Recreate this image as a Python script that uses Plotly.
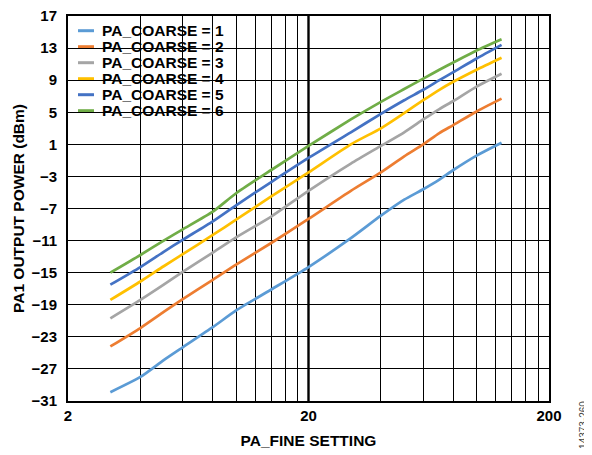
import plotly.graph_objects as go

# ---- data ----
pa_fine = [3, 4, 5, 6, 8, 10, 14, 20, 30, 40, 50, 60, 70, 80, 100, 127]
coarse_1 = [-29.9, -28.0, -25.9, -24.3, -21.8, -19.7, -17.1, -14.3, -10.7, -7.9, -5.9, -4.6, -3.4, -2.2, -0.4, 1.2]
coarse_2 = [-24.2, -21.9, -19.9, -18.3, -15.9, -14.0, -11.3, -8.3, -4.8, -2.5, -0.5, 1.0, 2.4, 3.4, 5.1, 6.7]
coarse_3 = [-20.7, -18.4, -16.5, -14.9, -12.5, -10.6, -8.0, -4.8, -1.4, 0.8, 2.5, 4.1, 5.4, 6.4, 8.2, 9.8]
coarse_4 = [-18.4, -16.1, -14.2, -12.7, -10.3, -8.4, -5.5, -2.5, 1.0, 3.0, 4.9, 6.5, 7.8, 8.8, 10.3, 11.8]
coarse_5 = [-16.5, -14.3, -12.4, -10.9, -8.6, -6.6, -3.7, -0.7, 2.5, 4.8, 6.5, 7.8, 9.0, 10.0, 11.7, 13.4]
coarse_6 = [-15.0, -12.8, -11.0, -9.6, -7.4, -5.1, -2.2, 0.8, 4.1, 6.3, 7.9, 9.2, 10.3, 11.2, 12.7, 14.1]

series_names = ["PA_COARSE = 1", "PA_COARSE = 2", "PA_COARSE = 3",
                "PA_COARSE = 4", "PA_COARSE = 5", "PA_COARSE = 6"]
series_values = [coarse_1, coarse_2, coarse_3, coarse_4, coarse_5, coarse_6]
series_colors = ["#5B9BD5", "#ED7D31", "#A5A5A5", "#FFC000", "#4472C4", "#70AD47"]

x_tickvals = [2, 4, 6, 8, 10, 12, 14, 16, 18, 20, 40, 60, 80, 100, 120, 140, 160, 180, 200]
x_ticktext = ["2", "", "", "", "", "", "", "", "", "20", "", "", "", "", "", "", "", "", "200"]
y_tickvals = [-31, -27, -23, -19, -15, -11, -7, -3, 1, 5, 9, 13, 17]

FONT = "Liberation Sans, Arial, Helvetica, sans-serif"

fig = go.Figure()
for name, vals, col in zip(series_names, series_values, series_colors):
    fig.add_trace(go.Scatter(x=pa_fine, y=vals, mode="lines", name=name,
                             line=dict(color=col, width=2.7, shape="spline", smoothing=0.6),
                             showlegend=False))

# thick decade line at 20
fig.add_shape(type="line", xref="x", yref="paper", x0=20, x1=20, y0=0, y1=1,
              line=dict(color="black", width=2.4), layer="between")

# legend (white box over the grid, short line samples)
fig.add_shape(type="rect", xref="paper", yref="paper", x0=0.003, x1=0.3368,
              y0=0.722, y1=0.997, fillcolor="white", line=dict(width=0), layer="between")
y_top = 0.9618
step = 16 / 385
for i, (name, col) in enumerate(zip(series_names, series_colors)):
    yy = y_top - i * step
    fig.add_shape(type="line", xref="paper", yref="paper", x0=0.0208, x1=0.054,
                  y0=yy, y1=yy, line=dict(color=col, width=3), layer="between")
    fig.add_annotation(xref="paper", yref="paper", x=0.0665, y=yy, text=name,
                       showarrow=False, xanchor="left", yanchor="middle",
                       font=dict(family=FONT, size=15.5, color="black", weight="bold"))

fig.add_annotation(xref="paper", yref="paper", x=1.0728, y=-0.062,
                   text="14373-260", showarrow=False, textangle=-90,
                   xanchor="center", yanchor="middle",
                   font=dict(family=FONT, size=10, color="#444444"))

fig.update_xaxes(type="log", range=[0.30103, 2.30103],
                 tickmode="array", tickvals=x_tickvals, ticktext=x_ticktext,
                 showgrid=True, gridcolor="black", gridwidth=1.3,
                 showline=True, linecolor="black", linewidth=2, mirror=True,
                 ticks="", ticklabelstandoff=0, ticklabeloverflow="allow",
                 tickfont=dict(family=FONT, size=15, color="black", weight="bold"),
                 title=dict(text="PA_FINE SETTING", standoff=12,
                            font=dict(family=FONT, size=15.5, color="black", weight="bold")),
                 zeroline=False)
fig.update_yaxes(range=[-31, 17], tickmode="array", tickvals=y_tickvals,
                 showgrid=True, gridcolor="black", gridwidth=1.3,
                 showline=True, linecolor="black", linewidth=2, mirror=True,
                 ticks="", ticklabelstandoff=6, ticklabeloverflow="allow",
                 tickfont=dict(family=FONT, size=15, color="black", weight="bold"),
                 title=dict(text="PA1 OUTPUT POWER (dBm)", standoff=3,
                            font=dict(family=FONT, size=15.5, color="black", weight="bold")),
                 zeroline=False)

fig.update_layout(width=584, height=447,
                  margin=dict(l=60, r=43, t=8, b=54, autoexpand=False),
                  paper_bgcolor="white", plot_bgcolor="white",
                  showlegend=False)

fig.write_html("out.html")
